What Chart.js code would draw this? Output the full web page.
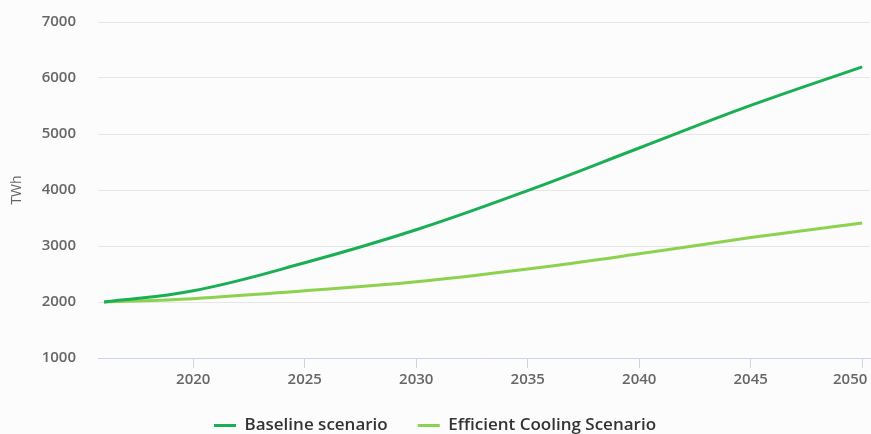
<!DOCTYPE html>
<html>
<head>
<meta charset="utf-8">
<script src="https://cdn.jsdelivr.net/npm/chart.js@4"></script>
<style>
  html, body { margin: 0; padding: 0; background: #fcfcfc; overflow: hidden; }
  #wrap { width: 871px; height: 444px; position: relative; }
</style>
</head>
<body>
<div id="wrap"><canvas id="chart"></canvas></div>
<script>
// values (TWh)
var years = [2016, 2020, 2025, 2030, 2035, 2040, 2045, 2050];
var baseline = [2000, 2200, 2700, 3290, 3990, 4750, 5510, 6200];
var efficient = [2000, 2060, 2200, 2360, 2590, 2860, 3150, 3410];
var yearTicks = [2020, 2025, 2030, 2035, 2040, 2045, 2050];
var seriesNames = ['Baseline scenario', 'Efficient Cooling Scenario'];

function toPoints(vals) {
    return years.map(function (y, i) { return { x: y, y: vals[i] }; });
}

var tickFont = { family: 'Open Sans', size: 15, weight: '600' };

// keep the last year label inside the canvas, like the original
var nudgeLastLabel = {
    id: 'nudgeLastLabel',
    beforeDraw: function (chart) {
        var items = chart.scales.x.getLabelItems();
        var last = items[items.length - 1];
        if (last && !last._nudged) {
            last.options.translation[0] -= 12;
            last._nudged = true;
        }
    },
};

var ctx = document.getElementById('chart').getContext('2d');
var chart = new Chart(ctx, {
    type: 'line',
    data: {
        datasets: [
            {
                label: seriesNames[0],
                data: toPoints(baseline),
                borderColor: '#1aaf54',
                backgroundColor: '#1aaf54',
                borderWidth: 3,
                pointRadius: 0,
                tension: 0.4,
                fill: false,
            },
            {
                label: seriesNames[1],
                data: toPoints(efficient),
                borderColor: '#8cd24f',
                backgroundColor: '#8cd24f',
                borderWidth: 3,
                pointRadius: 0,
                tension: 0.4,
                fill: false,
            },
        ],
    },
    options: {
        responsive: true,
        maintainAspectRatio: false,
        animation: false,
        layout: { padding: { top: 22, right: 1, left: 0, bottom: 0 } },
        plugins: {
            tooltip: { enabled: false },
            legend: {
                position: 'bottom',
                labels: {
                    usePointStyle: true,
                    pointStyle: 'line',
                    pointStyleWidth: 22,
                    padding: 30,
                    color: '#333',
                    font: { family: 'Open Sans', size: 17, weight: '600' },
                },
            },
        },
        scales: {
            x: {
                type: 'linear',
                min: 2015.73,
                max: 2050.35,
                afterBuildTicks: function (s) {
                    s.ticks = yearTicks.map(function (v) { return { value: v }; });
                },
                afterFit: function (s) {
                    s.height = 29;
                    s.paddingLeft = 0;
                    s.paddingRight = 0;
                },
                ticks: {
                    color: '#666',
                    font: tickFont,
                    padding: 3,
                    maxRotation: 0,
                    callback: function (v) { return String(v); },
                },
                grid: {
                    drawOnChartArea: false,
                    drawTicks: true,
                    tickLength: 10,
                    color: '#ccd6eb',
                },
                border: { color: '#ccd6eb', width: 1 },
            },
            y: {
                min: 1000,
                max: 7000,
                afterFit: function (s) {
                    s.width = 98;
                    s.paddingTop = 0;
                    s.paddingBottom = 0;
                },
                ticks: {
                    stepSize: 1000,
                    color: '#666',
                    font: tickFont,
                    padding: 22,
                    callback: function (v) { return String(v); },
                },
                grid: { color: '#e6e6e6', drawTicks: false },
                border: { display: false },
                title: {
                    display: true,
                    text: 'TWh',
                    color: '#666',
                    font: { family: 'Open Sans', size: 14, weight: '400' },
                    padding: { top: 9, bottom: 0 },
                },
            },
        },
    },
    plugins: [nudgeLastLabel],
});
</script>
</body>
</html>
